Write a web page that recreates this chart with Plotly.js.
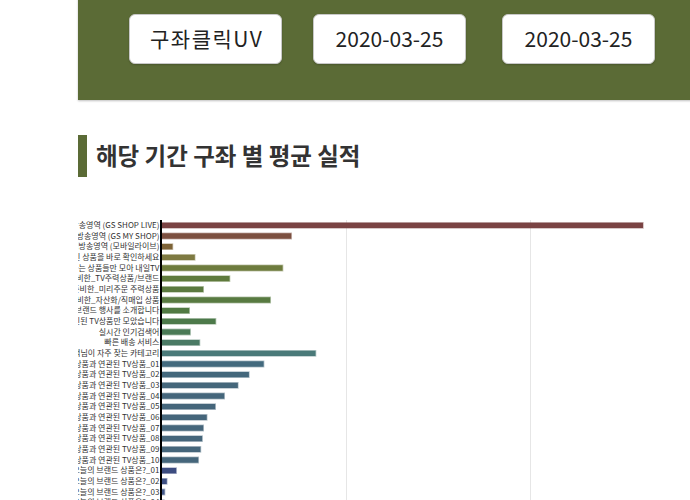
<!DOCTYPE html>
<html>
<head>
<meta charset="utf-8">
<script src="https://cdn.plot.ly/plotly-3.0.1.min.js"></script>
<style>
  html, body { margin:0; padding:0; width:690px; height:500px; overflow:hidden; background:#fff;
    font-family: "Noto Sans CJK KR", "Noto Sans", sans-serif; }
  #panel { position:absolute; left:78px; top:-10px; width:700px; height:110px; background:#5b6b36;
    box-shadow: 0 1px 2px rgba(0,0,0,0.25); }
  .box { position:absolute; top:14px; width:153px; height:50px; background:#fff; border:1px solid #c8c8c8;
    border-radius:6px; box-sizing:border-box; font-size:21px; color:#222; line-height:46px;
    box-shadow: 0 1px 2px rgba(0,0,0,0.2); }
  #b1 { left:129px; padding-left:20px; letter-spacing:1.5px; }
  #b2 { left:313px; text-align:center; }
  #b3 { left:502px; text-align:center; }
  #hbar { position:absolute; left:78px; top:135px; width:9px; height:42px; background:#5b6b36; }
  #htitle { position:absolute; left:96px; top:140px; font-size:23.5px; font-weight:bold; color:#333; line-height:30px; }
  #chart { position:absolute; left:78px; top:200px; width:720px; height:400px; overflow:hidden; }
</style>
</head>
<body>
<div id="panel"></div>
<div class="box" id="b1">구좌클릭UV</div>
<div class="box" id="b2">2020-03-25</div>
<div class="box" id="b3">2020-03-25</div>
<div id="hbar"></div>
<div id="htitle">해당 기간 구좌 별 평균 실적</div>
<div id="chart"></div>
<script>
const categories = [
  "TV생방송영역 (GS SHOP LIVE)",
  "데이터방송영역 (GS MY SHOP)",
  "모바일생방송영역 (모바일라이브)",
  "방송중인 상품을 바로 확인하세요",
  "내일 방송하는 상품들만 모아 내일TV",
  "고객님을 위해 준비한_TV주력상품/브랜드",
  "고객님을 위해 준비한_미리주문 주력상품",
  "고객님을 위해 준비한_자산화/직매입 상품",
  "다양한 브랜드 행사를 소개합니다",
  "특별 할인된 TV상품만 모았습니다",
  "실시간 인기검색어",
  "빠른 배송 서비스",
  "고객님이 자주 찾는 카테고리",
  "최근 본 상품과 연관된 TV상품_01",
  "최근 본 상품과 연관된 TV상품_02",
  "최근 본 상품과 연관된 TV상품_03",
  "최근 본 상품과 연관된 TV상품_04",
  "최근 본 상품과 연관된 TV상품_05",
  "최근 본 상품과 연관된 TV상품_06",
  "최근 본 상품과 연관된 TV상품_07",
  "최근 본 상품과 연관된 TV상품_08",
  "최근 본 상품과 연관된 TV상품_09",
  "최근 본 상품과 연관된 TV상품_10",
  "오늘의 브랜드 상품은?_01",
  "오늘의 브랜드 상품은?_02",
  "오늘의 브랜드 상품은?_03",
  "오늘의 브랜드 상품은?_04"
];
const values = [13060, 3510, 285, 890, 3275, 1835, 1120, 2940, 740, 1455, 765, 1020, 4170,
  2760, 2360, 2060, 1690, 1445, 1215, 1120, 1090, 1045, 985, 385, 130, 70, 50];
const barColors = ["#7a4343", "#7c5040", "#7d6337", "#7e7a42", "#6d7b3d", "#5f7b3d", "#5b7a3f",
  "#587a41", "#517a43", "#4d7a4a", "#4a7a56", "#4a7a64", "#4a7a79",
  "#436a7e", "#44687c", "#45677b", "#45667b", "#45667b", "#45667b", "#45667b", "#45667b", "#45667b", "#45667b",
  "#3c4c80", "#3e5084", "#44598a", "#46608c"];
const lineColors = barColors.map(c => c + "66");

Plotly.newPlot("chart", [{
  type: "bar",
  orientation: "h",
  y: categories,
  x: values,
  marker: { color: barColors, line: { color: lineColors, width: 1.5 } },
  hoverinfo: "x+y"
}], {
  width: 720, height: 400,
  margin: { l: 84, r: 102, t: 20, b: 92.4 },
  paper_bgcolor: "#fff", plot_bgcolor: "#fff",
  bargap: 0.5,
  showlegend: false,
  font: { family: "Noto Sans CJK KR, Noto Sans, sans-serif", size: 8, color: "#444" },
  xaxis: { range: [0, 14500], dtick: 5000, gridcolor: "#e6e6e6", gridwidth: 1, zeroline: false,
    showline: false, showticklabels: false },
  yaxis: { autorange: "reversed", showline: true, linecolor: "#000", linewidth: 2, ticks: "",
    tickmode: "array", tickvals: categories, ticktext: categories, ticklabelstandoff: -1,
    showgrid: false, tickfont: { size: 8, color: "#333" } }
}, { displayModeBar: false });
</script>
</body>
</html>
